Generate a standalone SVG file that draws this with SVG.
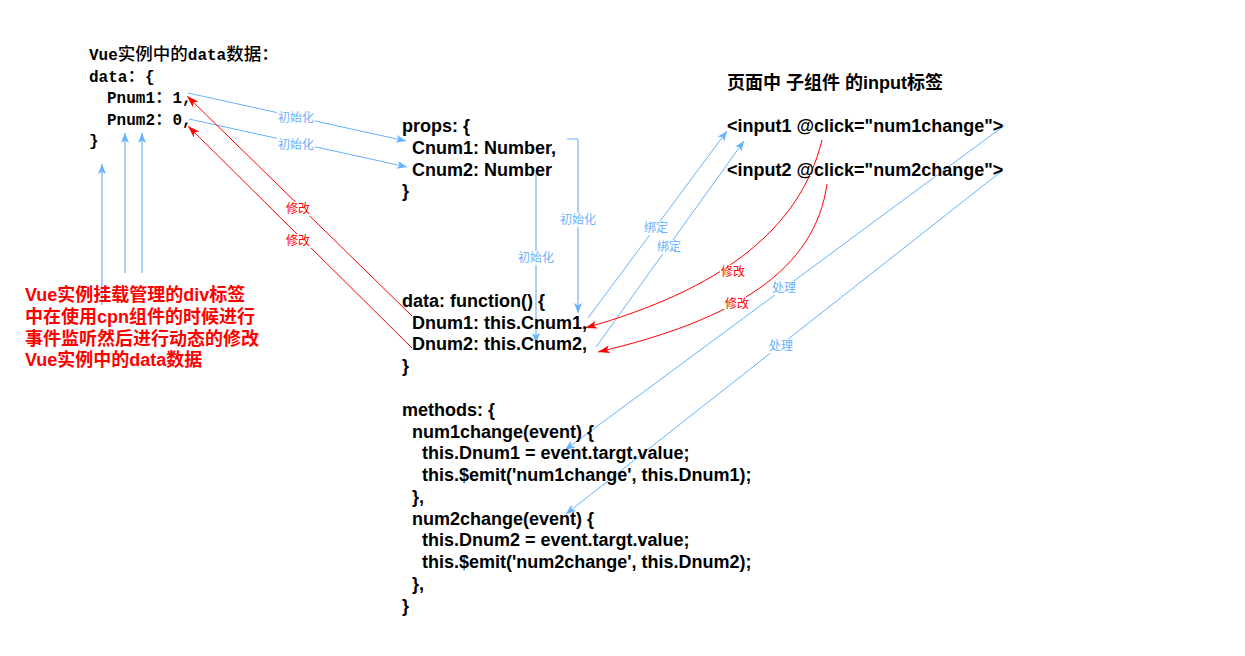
<svg xmlns="http://www.w3.org/2000/svg" width="1245" height="656" viewBox="0 0 1245 656">
<style>
.mono{font-family:"Liberation Mono","Noto Sans CJK SC",monospace;font-size:16px;font-weight:bold;fill:#000}
.cj{font-family:"Noto Sans CJK SC",sans-serif;font-size:17.5px;font-weight:500}
.code{font-family:"Liberation Sans","Noto Sans CJK SC",sans-serif;font-size:18px;font-weight:bold;fill:#000}
.note{font-family:"Liberation Sans","Noto Sans CJK SC",sans-serif;font-size:18px;font-weight:bold;fill:#FF0000}
.lb{font-family:"Noto Sans CJK SC",sans-serif;font-size:12px;text-anchor:middle}
.lbb{fill:#66B2FF}
.lbr{fill:#FF0000}
.bl{stroke:#66B2FF;stroke-width:1;fill:none}
.bv{stroke:#A9D2FB;stroke-width:2;fill:none}
.rd{stroke:#FF0000;stroke-width:1;fill:none}
.bg{fill:#FFFFFF}
</style>
<defs>
<marker id="ab" markerUnits="userSpaceOnUse" markerWidth="11" markerHeight="9" refX="10" refY="4" orient="auto"><path d="M0,0 L10,4 L0,8 L2.5,4 Z" fill="#66B2FF"/></marker>
<marker id="ar" markerUnits="userSpaceOnUse" markerWidth="13" markerHeight="9" refX="12" refY="4" orient="auto"><path d="M0,0 L12,4 L0,8 L3,4 Z" fill="#FF0000"/></marker>
</defs>
<rect width="1245" height="656" fill="#FFFFFF"/>

<g id="connectors">
  <path class="bv" d="M102,305 V164" marker-end="url(#ab)"/>
  <path class="bv" d="M125,273 V133" marker-end="url(#ab)"/>
  <path class="bv" d="M142,273 V133" marker-end="url(#ab)"/>
  <path class="bl" d="M188,93 L406,141" marker-end="url(#ab)"/>
  <path class="bl" d="M189,119 L407,167" marker-end="url(#ab)"/>
  <path class="rd" d="M412,316 L187,96" marker-end="url(#ar)"/>
  <path class="rd" d="M412,348 L188,126" marker-end="url(#ar)"/>
  <path class="bl" d="M567,139 H578"/>
  <path class="bv" d="M578,139 V313" marker-end="url(#ab)"/>
  <path class="bv" d="M536,174 V343" marker-end="url(#ab)"/>
  <path class="bl" d="M588,318 L727,131" marker-end="url(#ab)"/>
  <path class="bl" d="M596,347 L744,141" marker-end="url(#ab)"/>
  <path class="rd" d="M822,140 C800,230 720,290 585,328" marker-end="url(#ar)"/>
  <path class="rd" d="M827,184 C815,270 735,320 598,352" marker-end="url(#ar)"/>
  <path class="bl" d="M1005,125 L565,450" marker-end="url(#ab)"/>
  <path class="bl" d="M1003,170 L566,514" marker-end="url(#ab)"/>

  <rect class="bg" x="277" y="111" width="38" height="14"/><text class="lb lbb" x="296" y="122">初始化</text>
  <rect class="bg" x="277" y="138" width="38" height="14"/><text class="lb lbb" x="296" y="149">初始化</text>
  <rect class="bg" x="285" y="202" width="26" height="14"/><text class="lb lbr" x="298" y="213">修改</text>
  <rect class="bg" x="285" y="234" width="26" height="14"/><text class="lb lbr" x="298" y="245">修改</text>
  <rect class="bg" x="559" y="213" width="38" height="14"/><text class="lb lbb" x="578" y="224">初始化</text>
  <rect class="bg" x="517" y="251" width="38" height="14"/><text class="lb lbb" x="536" y="262">初始化</text>
  <rect class="bg" x="643" y="221" width="26" height="14"/><text class="lb lbb" x="656" y="232">绑定</text>
  <rect class="bg" x="656" y="240" width="26" height="14"/><text class="lb lbb" x="669" y="251">绑定</text>
  <rect class="bg" x="720" y="265" width="26" height="14"/><text class="lb lbr" x="733" y="276">修改</text>
  <rect class="bg" x="724" y="297" width="26" height="14"/><text class="lb lbr" x="737" y="308">修改</text>
  <rect class="bg" x="771" y="281" width="26" height="14"/><text class="lb lbb" x="784" y="292">处理</text>
  <rect class="bg" x="768" y="339" width="26" height="14"/><text class="lb lbb" x="781" y="350">处理</text>
</g>

<g id="vue-data">
  <text class="mono" x="89" y="60">Vue<tspan class="cj">实例中的</tspan>data<tspan class="cj">数据：</tspan></text>
  <text class="mono" x="89" y="82">data<tspan class="cj">：</tspan>{</text>
  <text class="mono" x="107" y="103">Pnum1<tspan class="cj">：</tspan>1,</text>
  <text class="mono" x="107" y="124.5">Pnum2<tspan class="cj">：</tspan>0,</text>
  <text class="mono" x="89" y="146">}</text>
</g>

<g id="note">
  <text class="note" x="25" y="301">Vue实例挂载管理的div标签</text>
  <text class="note" x="25" y="323">中在使用cpn组件的时候进行</text>
  <text class="note" x="25" y="345">事件监听然后进行动态的修改</text>
  <text class="note" x="25" y="366">Vue实例中的data数据</text>
</g>

<g id="props">
  <text class="code" x="402" y="132">props: {</text>
  <text class="code" x="412" y="154">Cnum1: Number,</text>
  <text class="code" x="412" y="175.5">Cnum2: Number</text>
  <text class="code" x="402" y="197">}</text>
</g>

<g id="data-fn">
  <text class="code" x="402" y="306.5">data: function() {</text>
  <text class="code" x="412" y="328.5">Dnum1: this.Cnum1,</text>
  <text class="code" x="412" y="350">Dnum2: this.Cnum2,</text>
  <text class="code" x="402" y="372">}</text>
</g>

<g id="methods">
  <text class="code" x="402" y="415.5">methods: {</text>
  <text class="code" x="412" y="437.5">num1change(event) {</text>
  <text class="code" x="422" y="459">this.Dnum1 = event.targt.value;</text>
  <text class="code" x="422" y="481">this.$emit('num1change', this.Dnum1);</text>
  <text class="code" x="412" y="502.5">},</text>
  <text class="code" x="412" y="524.5">num2change(event) {</text>
  <text class="code" x="422" y="546">this.Dnum2 = event.targt.value;</text>
  <text class="code" x="422" y="568">this.$emit('num2change', this.Dnum2);</text>
  <text class="code" x="412" y="589.5">},</text>
  <text class="code" x="402" y="611.5">}</text>
</g>

<g id="child-title">
  <text class="code" x="727" y="88.5">页面中 子组件 的input标签</text>
</g>
<g id="input1">
  <text class="code" x="727" y="132">&lt;input1 @click="num1change"&gt;</text>
</g>
<g id="input2">
  <text class="code" x="727" y="175.5">&lt;input2 @click="num2change"&gt;</text>
</g>
</svg>
